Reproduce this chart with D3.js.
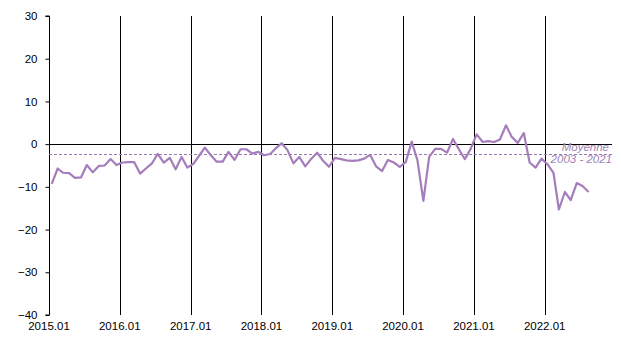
<!DOCTYPE html>
<html><head><meta charset="utf-8">
<script src="https://cdn.jsdelivr.net/npm/d3@7"></script>
<style>
html,body{margin:0;padding:0;background:#fff;}
svg{display:block;}
</style>
</head><body>
<svg id="chart" width="621" height="357"></svg>
<script>
// Monthly values, 2015.01 – 2022.08
const startYear = 2015;
const values = [
  -9.3, -5.7, -6.7, -6.8, -7.9, -7.8, -4.9, -6.6, -5.1, -5.0, -3.5, -4.9,   // 2015
  -4.3, -4.2, -4.2, -6.9, -5.7, -4.5, -2.3, -4.3, -3.2, -5.9, -3.0, -5.5,   // 2016
  -4.6, -2.6, -0.8, -2.6, -4.1, -4.1, -1.8, -3.7, -1.2, -1.2, -2.2, -1.8,   // 2017
  -2.6, -2.3, -1.0,  0.2, -1.4, -4.5, -3.0, -5.2, -3.4, -2.0, -3.9, -5.3,   // 2018
  -3.2, -3.5, -3.8, -3.9, -3.8, -3.4, -2.5, -5.2, -6.3, -3.7, -4.3, -5.3,   // 2019
  -4.2,  0.6, -3.7, -13.3, -3.0, -1.1, -1.1, -2.0, 1.2, -1.2, -3.5, -1.1,   // 2020
   2.3,  0.5,  0.7,  0.5,  1.1,  4.4,  1.7,  0.3,  2.6, -4.3, -5.5, -3.4,   // 2021
  -4.7, -6.7, -15.3, -11.2, -13.1, -9.1, -9.8, -11.2                         // 2022
];
const yearTicks = ["2015.01","2016.01","2017.01","2018.01","2019.01","2020.01","2021.01","2022.01"];
const yTicks = [-40, -30, -20, -10, 0, 10, 20, 30];
const averageValue = -2.2;
const averageLabel = ["Moyenne", "2003 - 2021"];

const svg = d3.select("#chart");
const mLeft = 49, mRight = 612, mTop = 16, mBottom = 315;

const x = d3.scaleTime()
  .domain([new Date(2015, 0, 1), new Date(2022, 11, 14)])
  .range([mLeft, mRight]);
const y = d3.scaleLinear().domain([-40, 30]).range([mBottom, mTop]);

const data = values.map((v, i) => ({
  date: new Date(startYear + Math.floor(i / 12), i % 12, 15),
  value: v
}));
const tickDates = yearTicks.map(s => {
  const [yy, mm] = s.split(".").map(Number);
  return new Date(yy, mm - 1, 1);
});

// vertical year lines
svg.append("g").selectAll("line").data(tickDates.slice(1)).join("line")
  .attr("x1", d => Math.round(x(d)) + 0.5).attr("x2", d => Math.round(x(d)) + 0.5)
  .attr("y1", y(30)).attr("y2", y(-40))
  .attr("stroke", "#000").attr("stroke-width", 1);

// x tick labels
svg.append("g").selectAll("text").data(tickDates).join("text")
  .attr("x", d => x(d)).attr("y", mBottom + 15)
  .attr("text-anchor", "middle")
  .attr("font-family", "Liberation Sans, Arial, sans-serif")
  .attr("font-size", 11.5).attr("fill", "#000")
  .text((d, i) => yearTicks[i]);

// y axis
const yAxis = d3.axisLeft(y).tickValues(yTicks).tickSize(4).tickPadding(8).tickFormat(d3.format("d"));
const gy = svg.append("g").attr("transform", `translate(${mLeft + 0.5},0)`).call(yAxis);
gy.select(".domain").attr("stroke", "#000").attr("d", `M-4,${y(30)}H0V${y(-40)}H-4`);
gy.selectAll(".tick line").attr("stroke", "#000");
gy.selectAll(".tick text")
  .attr("font-family", "Liberation Sans, Arial, sans-serif")
  .attr("font-size", 11.5).attr("fill", "#000");

// average dashed line
svg.append("line")
  .attr("x1", mLeft).attr("x2", mRight)
  .attr("y1", Math.round(y(averageValue)) + 0.5).attr("y2", Math.round(y(averageValue)) + 0.5)
  .attr("stroke", "#9a78ad").attr("stroke-width", 1).attr("stroke-dasharray", "3,2");

// zero line
svg.append("line")
  .attr("x1", mLeft).attr("x2", mRight)
  .attr("y1", Math.round(y(0)) + 0.5).attr("y2", Math.round(y(0)) + 0.5)
  .attr("stroke", "#000").attr("stroke-width", 1);

// series line
const line = d3.line().x(d => x(d.date)).y(d => y(d.value));
svg.append("path").datum(data)
  .attr("d", line)
  .attr("fill", "none")
  .attr("stroke", "#a57dbb")
  .attr("stroke-width", 2.2)
  .attr("stroke-linejoin", "round");

// average label
const lab = svg.append("text")
  .attr("text-anchor", "end")
  .attr("font-family", "Liberation Sans Narrow, Arial Narrow, Liberation Sans, sans-serif")
  .attr("font-style", "italic")
  .attr("font-size", 11.5)
  .attr("fill", "#9e84b5");
lab.append("tspan").attr("x", mRight - 3).attr("y", y(averageValue) - 3).text(averageLabel[0]);
lab.append("tspan").attr("x", mRight).attr("y", y(averageValue) + 9).text(averageLabel[1]);
</script>
</body></html>
